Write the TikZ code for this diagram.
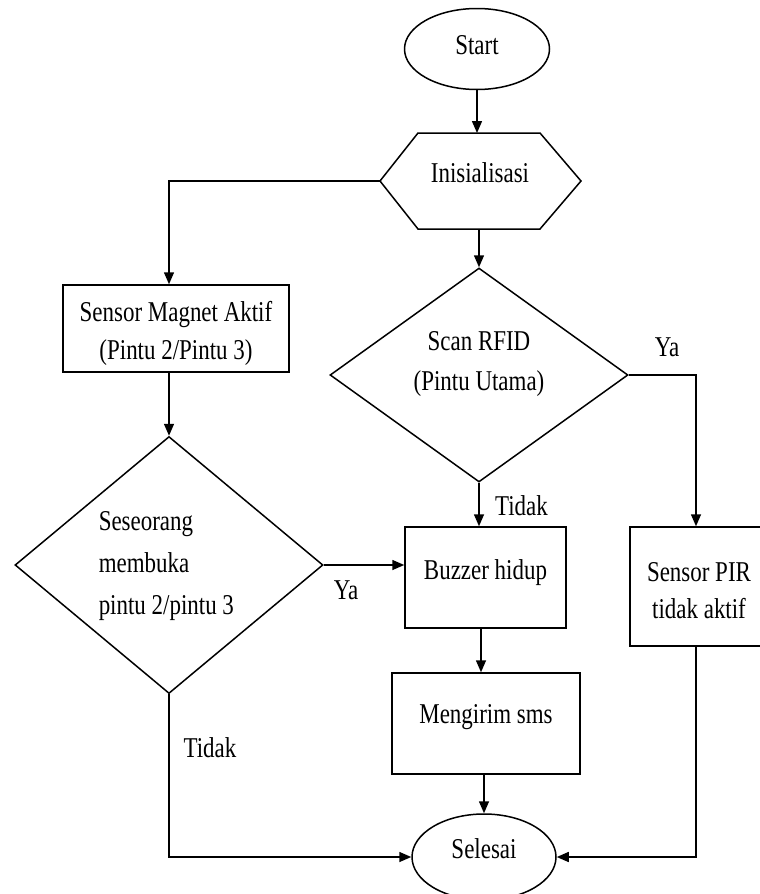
\documentclass[tikz,border=0pt]{standalone}
\usepackage{fontspec}
\setmainfont{Liberation Serif}[FakeStretch=0.8]
\usetikzlibrary{shapes.geometric,arrows.meta,calc}
\begin{document}
\begin{tikzpicture}[x=1pt,y=-1pt,
  line width=1.5pt,
  every node/.style={font=\fontsize{28.7}{39}\selectfont, inner sep=0pt},
  box/.style={draw, rectangle},
  term/.style={draw, ellipse},
  dec/.style={draw, diamond},
  lbl/.style={align=center},
  arr/.style={-{Triangle[length=12pt,width=10pt]}}]
\useasboundingbox (0,0) rectangle (760,894);

% shapes
\node[term, minimum width=145pt, minimum height=81pt] (start) at (477,49) {};
\node[minimum width=201pt, minimum height=96pt, outer sep=0pt] (init) at (480.5,181) {};
\draw (init.west) -- ($(init.north west)+(38,0)$) -- ($(init.north east)+(-41,0)$) -- (init.east)
      -- ($(init.south east)+(-41,0)$) -- ($(init.south west)+(38,0)$) -- cycle;
\node[box, minimum width=226pt, minimum height=87pt] (sensor) at (176,328.5) {};
\node[dec, minimum width=298pt, minimum height=214pt] (rfid) at (479,375) {};
\node[dec, minimum width=308pt, minimum height=257pt] (open) at (169,565) {};
\node[box, minimum width=161pt, minimum height=101pt] (buzz) at (485.5,577.5) {};
\node[box, minimum width=138pt, minimum height=119pt] (pir) at (699,586.5) {};
\node[box, minimum width=188pt, minimum height=101pt] (sms) at (486,723.5) {};
\node[term, minimum width=144pt, minimum height=86pt] (end) at (484,857) {};

% texts
\node[lbl] (tstart) at (477,45) {Start};
\node[lbl] (tinit) at (480,173) {Inisialisasi};
\node[lbl, font=\fontsize{28.7}{38}\selectfont] (tsensor) at (176,333.5) {Sensor Magnet Aktif\\(Pintu 2/Pintu 3)};
\node[lbl, font=\fontsize{28.7}{40}\selectfont] (trfid) at (479,364.5) {Scan RFID\\(Pintu Utama)};
\node[align=left, anchor=west, font=\fontsize{28.7}{42}\selectfont] (topen) at (98,566) {Seseorang\\membuka\\pintu 2/pintu 3};
\node[lbl] (tbuzz) at (485.5,573) {Buzzer hidup};
\node[lbl, font=\fontsize{28.7}{37}\selectfont] (tpir) at (699,590.5) {Sensor PIR\\tidak aktif};
\node[lbl] (tsms) at (486,717.5) {Mengirim sms};
\node[lbl] (tend) at (484,849) {Selesai};

% labels
\node (ya1) at (667,347.5) {Ya};
\node (tidak1) at (521.5,505.5) {Tidak};
\node (ya2) at (346,590.5) {Ya};
\node (tidak2) at (210,748) {Tidak};

% connectors
\draw[arr] (start.south) -- (init.north -| start.south);
\draw[arr] (init.west) -| (open.north |- sensor.north);
\draw[arr] (init.south -| rfid.north) -- (rfid.north);
\draw[arr] (sensor.south -| open.north) -- (open.north);
\draw[arr] (rfid.east) -| (pir.north -| 696,0);
\draw[arr] (rfid.south) -- (rfid.south |- buzz.north);
\draw[arr] (open.east) -- (open.east -| buzz.west);
\draw[arr] (481,0 |- buzz.south) -- (481,0 |- sms.north);
\draw[arr] (sms.south -| end.north) -- (end.north);
\draw[arr] (open.south) |- (end.west);
\draw[arr] (pir.south -| 696,0) |- (end.east);
\end{tikzpicture}
\end{document}
